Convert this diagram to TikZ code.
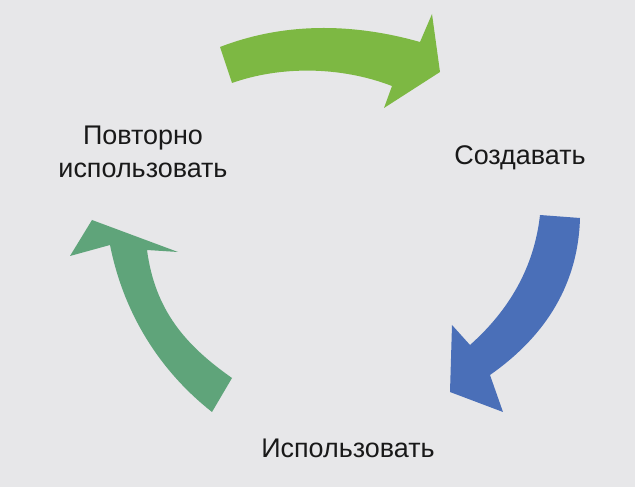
\documentclass[tikz,border=0pt]{standalone}
\usepackage{fontspec}
\setmainfont{Liberation Sans}
\definecolor{bgcol}{HTML}{E7E7E9}
\definecolor{greencol}{HTML}{7DB843}
\definecolor{bluecol}{HTML}{4A6FB8}
\definecolor{tealcol}{HTML}{5FA47A}
\begin{document}
\begin{tikzpicture}
		[
			x=0.03cm, y=-0.03cm,
			align=center,
			label/.style={font=\fontsize{23}{28}\selectfont, text=black!90},
			band/.style={draw=none}
		]

		% background
		\fill[bgcol] (0,0) rectangle (635,487);

		% labels
		\node[label] (reuse)  at (143,152) {Повторно\\использовать};
		\node[label] (create) at (520,158) {Создавать};
		\node[label] (use)    at (348,448) {Использовать};

		% curved arrows
		\fill[band, greencol] (220,47) .. controls (290,20) and (360,25) .. (420,42)
			-- (432,14) -- (440,72) -- (384,108) -- (392,86)
			.. controls (340,66) and (280,66) .. (232,83) -- cycle;
		\fill[band, bluecol] (540,215) -- (580,218)
			.. controls (578,290) and (540,340) .. (490,375)
			-- (503,412) -- (450,392) -- (452,325) -- (470,345)
			.. controls (515,305) and (535,260) .. (540,215) -- cycle;
		\fill[band, tealcol] (212,412) .. controls (165,375) and (125,320) .. (110,245)
			-- (70,256) -- (92,220) -- (178,252) -- (147,250)
			.. controls (155,310) and (185,345) .. (232,378) -- cycle;

	\end{tikzpicture}
\end{document}
